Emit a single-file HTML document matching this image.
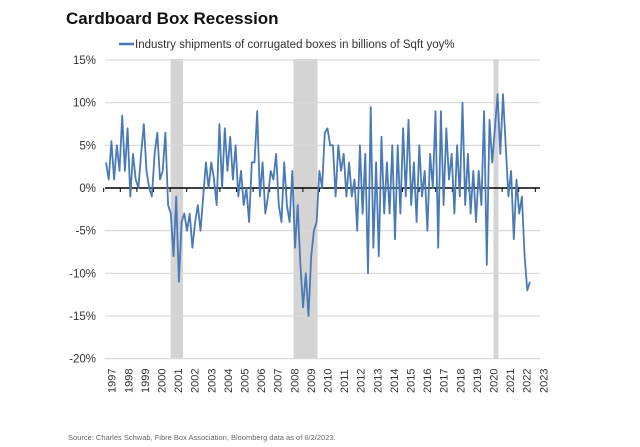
<!DOCTYPE html>
<html><head><meta charset="utf-8">
<style>
body{margin:0;background:#fff;width:640px;height:447px;overflow:hidden;font-family:"Liberation Sans",Arial,sans-serif;}
svg{display:block}
</style></head>
<body>
<svg id="chart" width="640" height="447" viewBox="0 0 640 447">
<text x="66" y="24" font-size="17" font-weight="bold" fill="#111">Cardboard Box Recession</text>
<line x1="119" y1="44" x2="134" y2="44" stroke="#4a7ab5" stroke-width="2.5"/>
<text x="135" y="48" font-size="11.5" fill="#333">Industry shipments of corrugated boxes in billions of Sqft yoy%</text>
<g id="bands"></g><g id="grid"></g><g id="yt"></g><g id="xt"></g>
<path id="line" fill="none" stroke="#4a7ab5" stroke-width="1.8" stroke-linejoin="round"/>
<text x="68" y="440" font-size="7.5" fill="#666">Source: Charles Schwab, Fibre Box Association, Bloomberg data as of 6/2/2023.</text>
</svg>
<script>
const values=[3,1,5.5,1,5,2, 8.5,2,7,-1,4,1, 0,4,7.5,2,0,-1, 4,6.5,1,2,6.5,-2, -3,-8,-1,-11,-4,-3,
-5,-3,-7,-4,-2,-5, -1,3,0,3,1,-2, 7.5,0,7,2,6,1, 5,-1,2,-2,0,-4, 3,3,9,-1,3,-3,
-1,2,1,4,-2,-4, 3,-2,-4,2,-7,-2, -9,-14,-10,-15,-8,-5, -4,2,0,6.5,7,5, 5,-1,5,2,4,-1,
3,-1,1,-5,5,-3, 4,-10,9.5,-7,3,-8, 6,-3,3,-3,5,-6, 5,-3,7,-1,8,-2, 3,-4,5,-1,2,-5,
4,0,9,-7,9,-2, 7,1,4,-3,5,-1, 10,-2,4,-3,2,-4, 2,-2,9,-9,8,3, 7,11,4,11,5,-1,
2,-6,1,-3,-1,-8, -12,-11];
const years=[1997,1998,1999,2000,2001,2002,2003,2004,2005,2006,2007,2008,2009,2010,2011,2012,2013,2014,2015,2016,2017,2018,2019,2020,2021,2022,2023];
const yTicks=[15,10,5,0,-5,-10,-15,-20];
const recStart=[2000.55,2007.95,2020.0];
const recEnd=[2001.3,2009.4,2020.3];
const NS="http://www.w3.org/2000/svg";
const y=v=>188-v*8.53;
const xi=i=>106+i*(424/(values.length-1));
const xy=yr=>111.7+(yr-1997)*16.6;
function mk(t,a,p){const e=document.createElementNS(NS,t);for(const k in a)e.setAttribute(k,a[k]);p.appendChild(e);return e;}
const bands=document.getElementById('bands');
recStart.forEach((s,i)=>{const r=mk('rect',{x:xy(s),y:59,width:xy(recEnd[i])-xy(s),height:299,fill:'#d4d4d4'},bands);

});
const grid=document.getElementById('grid'),yt=document.getElementById('yt');
yTicks.forEach(v=>{if(v!==0){const l=mk('line',{x1:105,x2:540,y1:y(v),y2:y(v),stroke:'#d9d9d9','stroke-width':1.2},grid);

}
const t=mk('text',{x:96,y:y(v)+4,'text-anchor':'end','font-size':11.5,fill:'#333'},yt);t.textContent=v+'%';

});
const xt=document.getElementById('xt');
years.forEach(yr=>{const x=xy(yr);
const tk=mk('line',{x1:x-8,x2:x-8,y1:188,y2:192,stroke:'#000','stroke-width':1},xt);


const t=mk('text',{x:0,y:0,transform:`translate(${x+4},393) rotate(-90)`,'font-size':11,fill:'#333'},xt);t.textContent=yr;

});
const zl=mk('line',{x1:105,x2:540,y1:188,y2:188,stroke:'#000','stroke-width':1.6},xt);


document.getElementById('line').setAttribute('d',values.map((v,i)=>(i?'L':'M')+xi(i).toFixed(1)+' '+y(v).toFixed(1)).join(''));
</script>
</body></html>
